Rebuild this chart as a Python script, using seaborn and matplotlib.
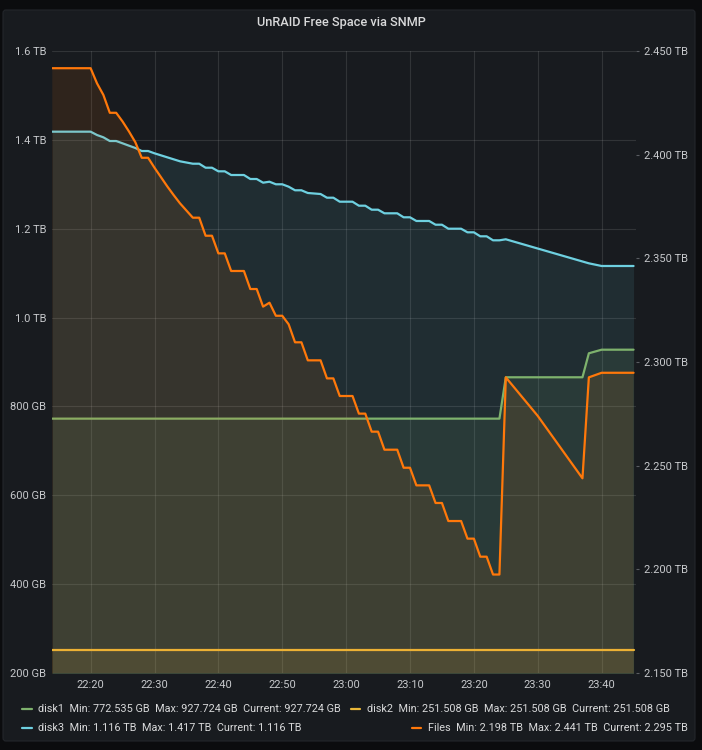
"""
UnRAID free space via SNMP (Grafana style panel)
"""
#------------------------------------------------------------------------------
# Libraries
#------------------------------------------------------------------------------

import numpy as np
import pandas as pd
import seaborn as sns
import matplotlib
matplotlib.use('Agg')
import matplotlib.pyplot as plt
import matplotlib.dates as mdates
from matplotlib.lines import Line2D
from matplotlib.patches import FancyBboxPatch
from matplotlib.ticker import FuncFormatter, MultipleLocator

#------------------------------------------------------------------------------
# Data (minutes after 22:14)
#------------------------------------------------------------------------------

start = pd.Timestamp('2020-01-01 22:14')

disk1_min = [0, 70, 71, 83, 84, 86, 91]
disk1_gb = [772.5, 772.5, 865.6, 865.6, 919.6, 927.7, 927.7]

disk2_min = [0, 91]
disk2_gb = [251.5, 251.5]

disk3_min = [0, 6, 7, 8, 9, 10, 11, 12, 13, 14, 15, 16, 17, 18, 19, 20,
             22, 23, 24, 25, 26, 27, 28, 30, 31, 32, 33, 34, 35, 36, 37, 38,
             39, 40, 42, 43, 44, 45, 47, 48, 49, 50, 51, 52, 54, 55, 56, 57,
             59, 60, 61, 62, 64, 65, 66, 67, 68, 69, 70, 71, 84, 86, 91]
disk3_gb = [1418.4, 1418.4, 1410.9, 1405.7, 1397.4, 1397.4, 1392.2, 1386.9,
            1381.7, 1374.9, 1374.9, 1369.7, 1365.2, 1360.7, 1356.2, 1351.7,
            1346.3, 1346.3, 1337.3, 1337.3, 1329.2, 1329.2, 1320.9, 1320.9,
            1311.9, 1311.9, 1303.6, 1305.8, 1300.0, 1300.0, 1294.6, 1286.5,
            1286.5, 1280.4, 1278.1, 1269.8, 1269.8, 1260.8, 1260.8, 1251.8,
            1251.8, 1242.8, 1242.8, 1234.7, 1234.7, 1225.7, 1225.7, 1217.4,
            1217.4, 1209.0, 1209.0, 1200.0, 1200.0, 1191.9, 1191.9, 1182.9,
            1182.9, 1173.9, 1173.9, 1176.2, 1122.1, 1116.1, 1116.1]

files_min = [0, 6, 7, 8, 9, 10, 11, 12, 13, 14, 15, 16, 17, 18, 19, 20,
             22, 23, 24, 25, 26, 27, 28, 30, 31, 32, 33, 34, 35, 36, 37, 38,
             39, 40, 42, 43, 44, 45, 47, 48, 49, 50, 51, 52, 54, 55, 56, 57,
             59, 60, 61, 62, 64, 65, 66, 67, 68, 69, 70, 71, 76, 83, 84, 86, 91]
files_tb = [2.4417, 2.4417, 2.4344, 2.4288, 2.4202, 2.4202, 2.4160, 2.4112,
            2.4060, 2.3985, 2.3985, 2.3937, 2.3892, 2.3847, 2.3805, 2.3765,
            2.3696, 2.3696, 2.3609, 2.3609, 2.3524, 2.3524, 2.3439, 2.3439,
            2.3352, 2.3352, 2.3267, 2.3286, 2.3223, 2.3223, 2.3182, 2.3095,
            2.3095, 2.3008, 2.3008, 2.2921, 2.2921, 2.2836, 2.2836, 2.2751,
            2.2751, 2.2664, 2.2664, 2.2577, 2.2577, 2.2490, 2.2490, 2.2405,
            2.2405, 2.2320, 2.2320, 2.2233, 2.2233, 2.2148, 2.2148, 2.2061,
            2.2061, 2.1975, 2.1975, 2.2926, 2.2740, 2.2439, 2.2926, 2.2948,
            2.2948]

legend_labels = {
    'disk1': 'disk1  Min: 772.535 GB  Max: 927.724 GB  Current: 927.724 GB',
    'disk2': 'disk2  Min: 251.508 GB  Max: 251.508 GB  Current: 251.508 GB',
    'disk3': 'disk3  Min: 1.116 TB  Max: 1.417 TB  Current: 1.116 TB',
    'Files': 'Files  Min: 2.198 TB  Max: 2.441 TB  Current: 2.295 TB',
}

colors = {'disk1': '#7eb26d', 'disk2': '#eab839',
          'disk3': '#6ed0e0', 'Files': '#ff780a'}

#------------------------------------------------------------------------------
# Build tables
#------------------------------------------------------------------------------

def to_frame(name, mins, vals):
    return pd.DataFrame({'time': start + pd.to_timedelta(mins, unit='m'),
                         'value': vals, 'series': name})

disks = pd.concat([to_frame('disk1', disk1_min, disk1_gb),
                   to_frame('disk2', disk2_min, disk2_gb),
                   to_frame('disk3', disk3_min, disk3_gb)], ignore_index=True)
files = to_frame('Files', files_min, files_tb)

#------------------------------------------------------------------------------
# Style
#------------------------------------------------------------------------------

W, H = 702, 750
bg_outer = '#0b0c0e'
bg_panel = '#181b1f'
txt = '#d8d9da'
tick_col = '#c7c9cc'

sns.set_theme(style='dark')
plt.rcParams['font.family'] = ['Roboto', 'DejaVu Sans']

fig = plt.figure(figsize=(W / 100, H / 100), dpi=100, facecolor=bg_outer)

def px(x, y):
    return x / W, 1 - y / H

# panel card
x0, y0 = px(3, 741)
x1, y1 = px(695, 10)
fig.add_artist(FancyBboxPatch((x0, y0), x1 - x0, y1 - y0,
                              boxstyle='round,pad=0,rounding_size=0.004',
                              transform=fig.transFigure, facecolor=bg_panel,
                              edgecolor='#23262b', linewidth=0.8, zorder=0))

fig.text(341 / W, 1 - 22.7 / H, 'UnRAID Free Space via SNMP', color=txt,
         fontsize=9.2, fontweight='medium', ha='center', va='center')

#------------------------------------------------------------------------------
# Axes
#------------------------------------------------------------------------------

left_px, right_px, top_px, bot_px = 52.3, 636, 51, 673
ax = fig.add_axes([left_px / W, 1 - bot_px / H,
                   (right_px - left_px) / W, (bot_px - top_px) / H])
ax.set_facecolor(bg_panel)
ax2 = ax.twinx()

for name, grp in disks.groupby('series'):
    ax.fill_between(grp['time'], grp['value'], 0, color=colors[name],
                    alpha=0.1, linewidth=0)
sns.lineplot(data=disks, x='time', y='value', hue='series', palette=colors,
             linewidth=1.6, legend=False, ax=ax)

ax2.fill_between(files['time'], files['value'], 0, color=colors['Files'],
                 alpha=0.1, linewidth=0)
sns.lineplot(data=files, x='time', y='value', color=colors['Files'],
             linewidth=1.6, legend=False, ax=ax2)

span_min = (right_px - left_px) / 6.3875
ax.set_xlim(start, start + pd.Timedelta(minutes=span_min))
ax.set_ylim(200, 1600)
ax2.set_ylim(2.15, 2.45)

ax.yaxis.set_major_locator(MultipleLocator(200))
ax.yaxis.set_major_formatter(FuncFormatter(
    lambda v, p: f'{v:.0f} GB' if v < 1000 else f'{v / 1000:.1f} TB'))
ax2.yaxis.set_major_locator(MultipleLocator(0.05))
ax2.yaxis.set_major_formatter(FuncFormatter(lambda v, p: f'{v:.3f} TB'))

ax.xaxis.set_major_locator(mdates.MinuteLocator(byminute=range(0, 60, 10)))
ax.xaxis.set_major_formatter(mdates.DateFormatter('%H:%M'))

for a in (ax, ax2):
    a.set_xlabel('')
    a.set_ylabel('')
    for s in a.spines.values():
        s.set_visible(False)

ax.tick_params(axis='x', length=0, pad=5, labelsize=8, colors=tick_col)
ax.tick_params(axis='y', length=0, pad=4.5, labelsize=8, colors=tick_col)
ax2.tick_params(axis='y', length=2.5, width=0.8, pad=3.5, labelsize=8,
                colors='#5a5d62', labelcolor=tick_col)

ax.grid(True, color='white', alpha=0.11, linewidth=0.8)
ax2.grid(False)

#------------------------------------------------------------------------------
# Legend
#------------------------------------------------------------------------------

leg_size = 7.8

def legend_dash(xdash, y, name):
    fig.add_artist(Line2D([xdash / W, (xdash + 9) / W], [1 - y / H] * 2,
                          color=colors[name], linewidth=1.6,
                          transform=fig.transFigure))

def legend_item(xdash, y, name):
    legend_dash(xdash, y, name)
    fig.text((xdash + 16) / W, 1 - y / H, legend_labels[name], color=txt,
             fontsize=leg_size, ha='left', va='center')

legend_item(22.5, 708.5, 'disk1')
legend_item(351, 708.5, 'disk2')
legend_item(22.5, 728, 'disk3')

# right y series float to the right edge
t = fig.text(688 / W, 1 - 728 / H, legend_labels['Files'], color=txt,
             fontsize=leg_size, ha='right', va='center')
fig.canvas.draw()
tx0 = t.get_window_extent().x0
legend_dash(tx0 - 16, 728, 'Files')

fig.savefig('out.png', dpi=100, facecolor=bg_outer)
